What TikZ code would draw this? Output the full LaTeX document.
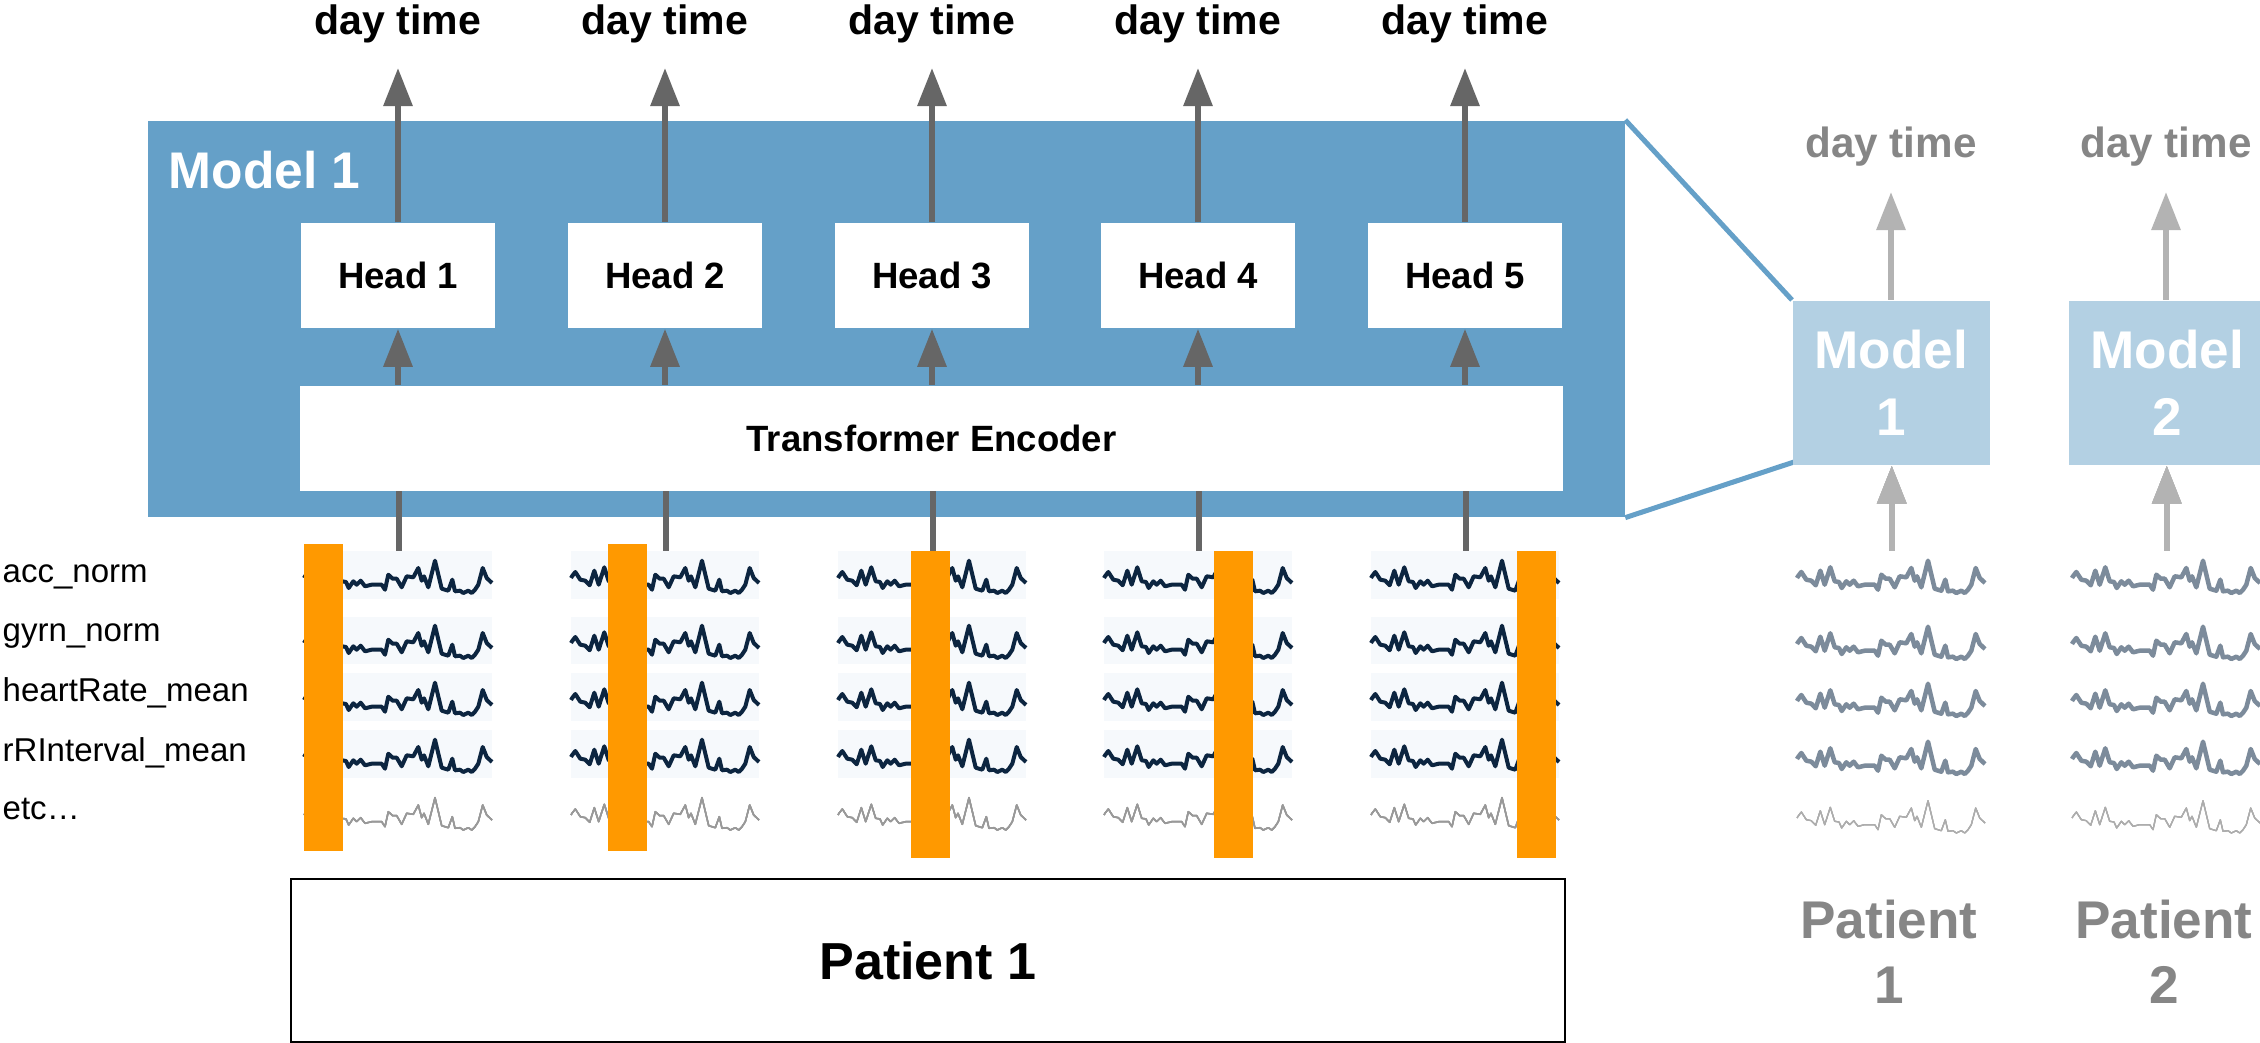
\documentclass[tikz,border=0pt]{standalone}
\usepackage{fontspec}
\setmainfont{Liberation Sans}
\usetikzlibrary{arrows.meta,calc}

\definecolor{modelblue}{HTML}{65A0C8}
\definecolor{modellight}{HTML}{B3D0E3}
\definecolor{arrowgray}{HTML}{666666}
\definecolor{fadedgray}{HTML}{B3B3B3}
\definecolor{textgray}{HTML}{868686}
\definecolor{winorange}{HTML}{FF9900}
\definecolor{seriesnavy}{HTML}{0C2540}
\definecolor{seriesslate}{HTML}{7C8B9B}
\definecolor{rowtint}{HTML}{F6F9FC}

\newcommand\fsz[2]{\fontsize{#1pt}{#2pt}\selectfont}
% one sensor trace, 188 units wide, centred on (#2,#3)
\newcommand\drawwave[3]{%
  \draw[#1, shift={(#2,#3)}] (0,1) -- (1,-0.7) -- (4.3,-5) -- (9.3,2.7) -- (14.3,3.7) -- (18.7,8.3)
    -- (23.3,-6.3) -- (27.7,7.7) -- (33.3,-9.7) -- (37.7,4.3) -- (42,5) -- (44.7,11) -- (49.3,4.3)
    -- (52.7,7.7) -- (56.7,3.7) -- (61,9.3) -- (67.7,7.7) -- (77.7,7.7) -- (81,12.7) -- (84.3,-2.3)
    -- (88.7,1.7) -- (92.7,1.7) -- (97.7,10.3) -- (102.7,-0.7) -- (109.3,0.3) -- (114.3,-9)
    -- (117.7,3.7) -- (120,-0.7) -- (124.3,10.3) -- (131,-16.3) -- (137.7,11.7) -- (144.3,13.7)
    -- (148.3,2.7) -- (151,14.3) -- (156,13.7) -- (159.3,16) -- (164.3,13.7) -- (167.7,16)
    -- (171,12.7) -- (174.3,7.7) -- (178.7,-9) -- (182.7,1) -- (188,6);}

\tikzset{
  whitebox/.style={fill=white, inner sep=0, font=\fsz{10.4}{12}\bfseries},
  daytime/.style={anchor=base, inner sep=0, font=\fsz{11.67}{14}\bfseries},
  arr/.style={draw=arrowgray, line width=0.06cm, -{Triangle[length=0.38cm, width=0.28cm]}},
  link/.style={draw=arrowgray, line width=0.06cm},
  fadedarr/.style={draw=fadedgray, line width=0.06cm, -{Triangle[length=0.38cm, width=0.28cm]}},
  zoomline/.style={draw=modelblue, line width=0.05cm},
  win/.style={minimum width=1.88cm, minimum height=2.9cm, inner sep=0},
  navywave/.style={draw=seriesnavy, line width=0.04cm, line join=round},
  faintwave/.style={draw=black!40, line width=0.015cm, line join=round},
  slatewave/.style={draw=seriesslate, line width=0.045cm, line join=round},
  fadedwave/.style={draw=black!32, line width=0.012cm, line join=round},
  featlabel/.style={anchor=base west, inner sep=0, font=\fsz{9.39}{11}},
  smallmodel/.style={anchor=north west, fill=modellight, minimum width=1.97cm, minimum height=1.64cm,
    inner sep=0, text=white, align=center, font=\fsz{15.1}{19.3}\bfseries},
  patientgray/.style={inner sep=0, text=textgray, align=center, font=\fsz{15.1}{18.5}\bfseries},
}

\begin{document}
\begin{tikzpicture}[x=0.01cm, y=-0.01cm]
\useasboundingbox (0,0) rectangle (2260,1043);
\fill[white] (0,0) rectangle (2260,1043);

% ---------- model 1 ----------
\node[anchor=north west, fill=modelblue, minimum width=14.76cm, minimum height=3.96cm, inner sep=0] (model) at (147,120) {};
\node[anchor=base west, inner sep=0, text=white, font=\fsz{14.65}{17}\bfseries] (modeltitle) at (168,189) {Model 1};
\node[whitebox, anchor=north west, minimum width=12.63cm, minimum height=1.05cm] (enc) at (299,385) {Transformer Encoder};

% ---------- heads, outputs and sliding windows ----------
\foreach \k/\sx in {1/304, 2/571, 3/838, 4/1104, 5/1371} {
  \pgfmathsetmacro\cx{\sx+94}
  \pgfmathsetmacro\bx{\sx+36.5*(\k-1)}
  \pgfmathsetmacro\by{\k<3 ? 544 : 551}
  \node[whitebox, minimum width=1.94cm, minimum height=1.05cm] (head\k) at (\cx,275.5) {Head \k};
  \node[daytime] (dt\k) at (\cx,35) {day time};
  \coordinate (tip\k) at (\cx,68);
  \draw[arr] (head\k) -- (tip\k);
  \draw[arr] (enc.north -| head\k) -- (head\k.south);
  % input window
  \node[win, anchor=north west] (win\k) at (\sx,551) {};
  \foreach \ta/\tb in {551/599, 617/664, 673/721, 730/778}
    \fill[rowtint] (\sx,\ta) rectangle (\sx+188,\tb);
  \foreach \cy in {577,642,699,756}
    \drawwave{navywave}{\sx}{\cy}
  \drawwave{faintwave}{\sx}{814}
  \fill[winorange] (\bx,\by) rectangle ++(39,307);
  \draw[link] (win\k.north) -- (enc.south -| win\k.north);
}

% ---------- feature names ----------
\foreach \n/\t/\yy in {1/acc\_norm/583, 2/gyrn\_norm/642, 3/heartRate\_mean/702, 4/rRInterval\_mean/761, 5/etc…/819}
  \node[featlabel] (feat\n) at (2,\yy) {\t};

% ---------- patient ----------
\node[draw=black, line width=0.02cm, anchor=north west, minimum width=12.73cm, minimum height=1.63cm,
  inner sep=0, font=\fsz{14.8}{17}\bfseries] (patient) at (290,878) {Patient 1};

% ---------- one model per patient ----------
\draw[zoomline] (model.north east) -- (1792,300) coordinate (zoomtop);
\draw[zoomline] (model.south east) -- (1794,462) coordinate (zoombot);
\node[smallmodel] (sm1) at (1792,300) {Model\\1};
\node[smallmodel] (sm2) at (2068,300) {Model\\2};

\foreach \k/\gx in {1/1797, 2/2072} {
  \pgfmathsetmacro\gc{\gx+94}
  \node[daytime, text=textgray, font=\fsz{12}{14}\bfseries] (gdt\k) at (\gc,158) {day time};
  \coordinate (gtip\k) at (\gc,192);
  \draw[fadedarr] (sm\k.north -| gtip\k) -- (gtip\k);
  \node[win, anchor=north west] (gwin\k) at (\gx,551) {};
  \foreach \cy in {577,643,700,758}
    \drawwave{slatewave}{\gx}{\cy}
  \drawwave{fadedwave}{\gx}{817}
  \draw[fadedarr] (gwin\k.north) -- (sm\k.south -| gwin\k.north);
  \node[patientgray] (gp\k) at (\gc-2,952) {Patient\\\k};
}
\end{tikzpicture}
\end{document}
